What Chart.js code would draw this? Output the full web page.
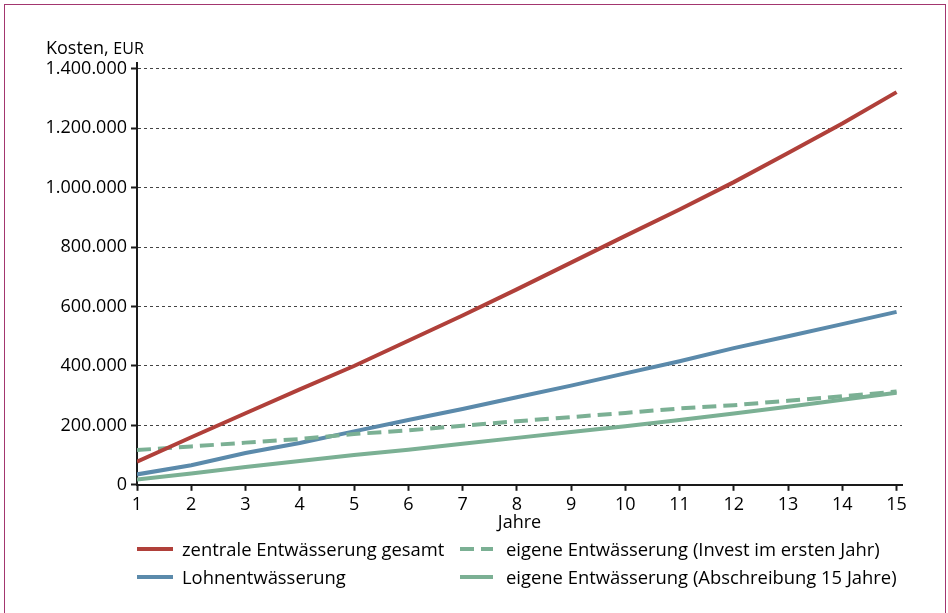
<!DOCTYPE html>
<html>
<head>
<meta charset="utf-8">
<script src="https://cdn.jsdelivr.net/npm/chart.js@4.4.1/dist/chart.umd.min.js"></script>
<style>
  body { margin: 0; background: #fff; font-family: "Open Sans", sans-serif; }
  #wrap { position: relative; width: 948px; height: 613px; overflow: hidden; }
  #frame { position: absolute; left: 4px; top: 4px; width: 942px; height: 640px; border: 1.5px solid #a3366f; box-sizing: border-box; }
  #chart { position: absolute; left: 0; top: 0; }
  #ytitle { position: absolute; left: 46px; top: 35px; font-size: 18px; color: #000; }
  #ytitle span { font-size: 16px; }
  .leg { position: absolute; font-size: 18.4px; color: #000; white-space: nowrap; }
  .leg svg { position: absolute; left: 0; top: 10px; }
  .leg div { position: absolute; top: 0; }
</style>
</head>
<body>
<div id="wrap">
  <div id="frame"></div>
  <canvas id="chart" width="948" height="613"></canvas>
  <div id="ytitle">Kosten, <span>EUR</span></div>
  <div id="legend"></div>
</div>
<script>
const jahre = [1, 2, 3, 4, 5, 6, 7, 8, 9, 10, 11, 12, 13, 14, 15];
const yTicks = [0, 200000, 400000, 600000, 800000, 1000000, 1200000, 1400000];

const zentral = [78000, 160000, 241000, 321000, 400000, 485000, 570000, 658000, 748000, 838000, 927000, 1019000, 1117000, 1216000, 1322000];
const lohn = [35000, 66000, 107000, 141000, 180000, 218000, 255000, 295000, 334000, 375000, 416000, 460000, 500000, 541000, 582000];
const eigenInvest = [117000, 129000, 142000, 154000, 171000, 183000, 199000, 214000, 228000, 242000, 257000, 268000, 283000, 298000, 314000];
const eigenAbschreibung = [18000, 38000, 60000, 80000, 100000, 118000, 138000, 158000, 178000, 197000, 218000, 240000, 263000, 286000, 310000];

const serienNamen = [
    'zentrale Entwässerung gesamt',
    'eigene Entwässerung (Invest im ersten Jahr)',
    'Lohnentwässerung',
    'eigene Entwässerung (Abschreibung 15 Jahre)'
];

const ROT = '#b0403a';
const BLAU = '#5b8aab';
const GRUEN = '#7bb094';
const FONT = '"Open Sans", sans-serif';

function punkte(werte) {
    return werte.map((v, i) => ({ x: jahre[i], y: v }));
}

function tausender(v) {
    return String(v).replace(/\B(?=(\d{3})+(?!\d))/g, '.');
}

const datasets = [
    { label: serienNamen[0], data: punkte(zentral), borderColor: ROT },
    { label: serienNamen[1], data: punkte(eigenInvest), borderColor: GRUEN, borderDash: [14, 7] },
    { label: serienNamen[2], data: punkte(lohn), borderColor: BLAU },
    { label: serienNamen[3], data: punkte(eigenAbschreibung), borderColor: GRUEN }
];
datasets.forEach(d => {
    d.borderWidth = 4;
    d.pointRadius = 0;
    d.tension = 0;
    d.fill = false;
});

new Chart(document.getElementById('chart'), {
    type: 'line',
    data: { datasets: datasets },
    options: {
        responsive: false,
        animation: false,
        layout: { padding: { left: 46, right: 46, top: 63, bottom: 79 } },
        plugins: { legend: { display: false }, tooltip: { enabled: false } },
        scales: {
            x: {
                type: 'linear',
                min: 1,
                max: 15.1,
                afterBuildTicks: s => { s.ticks = jahre.map(v => ({ value: v })); },
                ticks: {
                    maxRotation: 0,
                    autoSkip: false,
                    padding: 3,
                    color: '#000',
                    font: { family: FONT, size: 18 }
                },
                grid: { drawOnChartArea: false, tickLength: 6, tickWidth: 2, tickColor: '#1a1a1a' },
                border: { color: '#1a1a1a', width: 2 },
                title: {
                    display: true,
                    text: 'Jahre',
                    color: '#000',
                    font: { family: FONT, size: 18 },
                    padding: { top: -6, bottom: 0 }
                }
            },
            y: {
                min: 0,
                max: 1420000,
                afterFit: s => { s.width = 91; },
                afterBuildTicks: s => { s.ticks = yTicks.map(v => ({ value: v })); },
                ticks: {
                    padding: 4,
                    color: '#000',
                    font: { family: FONT, size: 18 },
                    callback: v => tausender(v)
                },
                grid: { color: '#444', lineWidth: 1, tickLength: 6, tickWidth: 2, tickColor: '#1a1a1a', tickBorderDash: [] },
                border: { color: '#1a1a1a', width: 2, dash: [3, 3] }
            }
        }
    }
});

// Legende in zwei Spalten
const legPos = [[137, 536], [460, 536], [137, 564], [460, 564]];
const legend = document.getElementById('legend');
datasets.forEach((d, i) => {
    const el = document.createElement('div');
    el.className = 'leg';
    el.style.left = legPos[i][0] + 'px';
    el.style.top = legPos[i][1] + 'px';
    const w = i % 2 === 0 ? 36 : 33;
    const dash = d.borderDash ? 'stroke-dasharray="14 7"' : '';
    el.innerHTML = '<svg width="' + w + '" height="6"><line x1="0" y1="3" x2="' + w + '" y2="3" stroke="' + d.borderColor + '" stroke-width="4" ' + dash + '/></svg>'
        + '<div style="left:' + (i % 2 === 0 ? 45 : 46) + 'px">' + d.label + '</div>';
    legend.appendChild(el);
});
</script>
</body>
</html>
